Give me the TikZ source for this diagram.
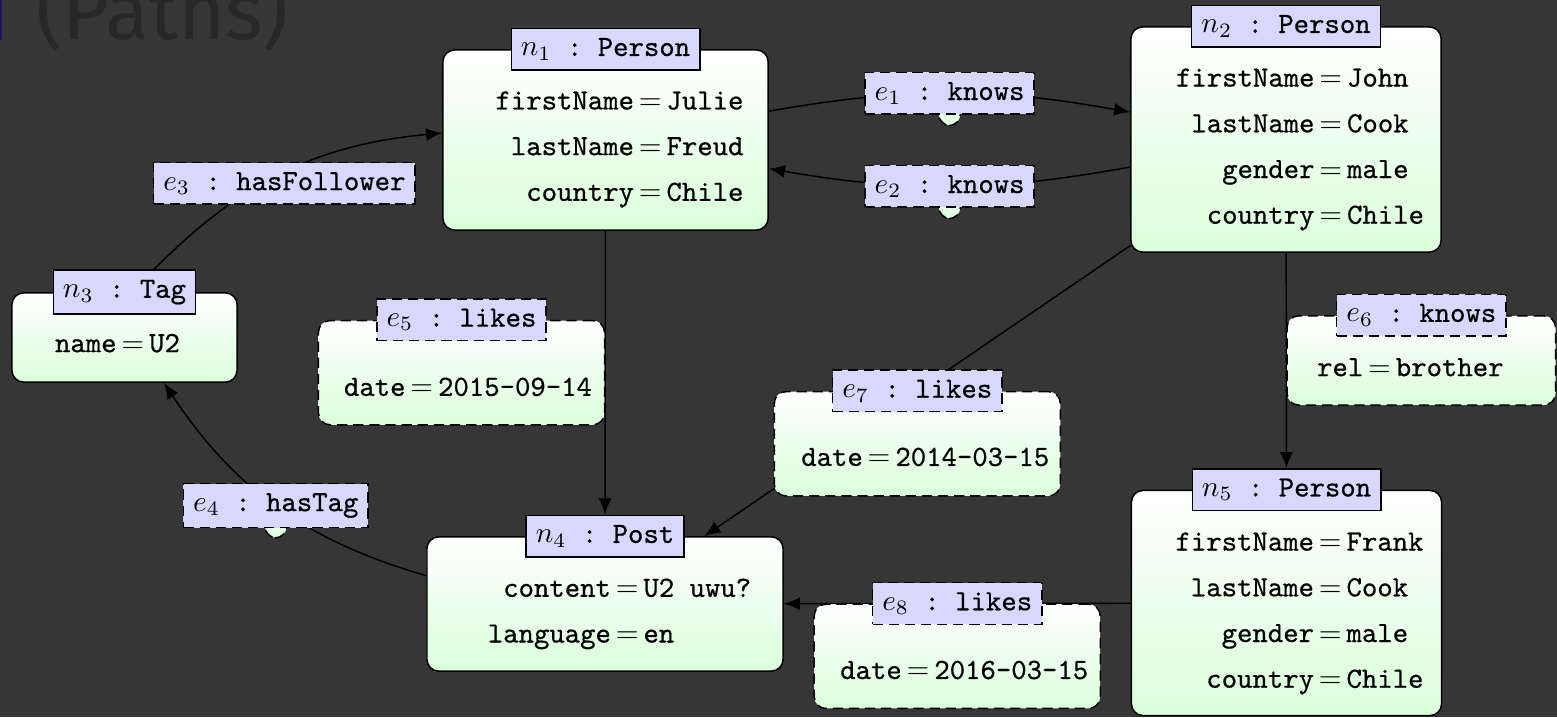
\documentclass[tikz,border=0pt]{standalone}
\usepackage{fontspec}
\setmonofont{Latin Modern Mono}[FakeBold=0.6]
\newfontfamily\slidefont{Fira Sans}
\usepackage{xcolor}
\definecolor{slate}{RGB}{54,54,54}
\definecolor{titlegrey}{RGB}{40,40,40}
\definecolor{headblue}{RGB}{20,20,100}
\definecolor{lavender}{RGB}{216,216,255}
\definecolor{mint}{RGB}{218,255,218}
\usepackage{tikz}
\usetikzlibrary{arrows.meta}
\renewcommand{\arraystretch}{1.3}
\newcommand{\kvtab}[1]{\begin{tabular}{@{}r@{\,$=$\,}l@{}}#1\end{tabular}}

\begin{document}
\begin{tikzpicture}[x=0.012cm, y=-0.012cm]
  \tikzset{
    nbody/.style 2 args={draw=black, line width=0.5pt, rounded corners=4pt,
                         top color=white, bottom color=mint,
                         minimum width=#1, minimum height=#2},
    ebody/.style 2 args={nbody={#1}{#2}, dash pattern=on 3.5pt off 2pt},
    ntitle/.style={draw=black, line width=0.5pt, fill=lavender, inner sep=3.3pt},
    etitle/.style={ntitle, dash pattern=on 3.5pt off 2pt},
    props/.style={inner sep=0pt, font=\ttfamily},
    link/.style={draw=black, line width=0.5pt, -{Latex[length=5.5pt, width=4.4pt]}}
  }
  % Slide
  \clip (0,0) rectangle (1557,717);
  \fill[slate] (0,0) rectangle (1557,717);
  \fill[headblue] (0,0) rectangle (2.5,40);
  \node[anchor=base west, inner sep=0pt, text=titlegrey,
        font=\slidefont\fontsize{27.5}{30}\selectfont] (title) at (36,39) {(Paths)};

  % Nodes
  \node[nbody={3.90cm}{2.16cm}] (n1) at (605.5,140) {};
  \node[ntitle] (n1t) at (n1.north) {$n_1$\texttt{ : Person}};
  \node[props] (n1p) at ([shift={(14,6)}]n1.center)
    {\kvtab{firstName & Julie\\ lastName & Freud\\ country & Chile}};

  \node[nbody={3.72cm}{2.70cm}] (n2) at (1286,139.5) {};
  \node[ntitle] (n2t) at (n2.north) {$n_2$\texttt{ : Person}};
  \node[props] (n2p) at ([shift={(14,6.5)}]n2.center)
    {\kvtab{firstName & John\\ lastName & Cook\\ gender & male\\ country & Chile}};

  \node[nbody={2.70cm}{1.07cm}] (n3) at (124.5,337.5) {};
  \node[ntitle] (n3t) at (n3.north) {$n_3$\texttt{ : Tag}};
  \node[props] (n3p) at ([shift={(-7,5.5)}]n3.center) {\kvtab{name & U2}};

  \node[nbody={4.27cm}{1.61cm}] (n4) at (605,604) {};
  \node[ntitle] (n4t) at (n4.north) {$n_4$\texttt{ : Post}};
  \node[props] (n4p) at ([shift={(14.5,6.5)}]n4.center)
    {\kvtab{content & U2 uwu?\\ language & en}};

  \node[nbody={3.72cm}{2.70cm}] (n5) at (1286.5,603) {};
  \node[ntitle] (n5t) at (n5.north) {$n_5$\texttt{ : Person}};
  \node[props] (n5p) at ([shift={(13,7)}]n5.center)
    {\kvtab{firstName & Frank\\ lastName & Cook\\ gender & male\\ country & Chile}};

  % Edges
  \draw[link] (n1) to[bend left=10] coordinate (m1) (n2);
  \draw[link] (n2) to[bend left=10] coordinate (m2) (n1);
  \draw[link] (n3t) to[bend left=20] coordinate (m3) (n1);
  \draw[link] (n4) to[bend left=20] coordinate (m4) (n3);
  \draw[link] (n1) -- coordinate (m5) (n4t);
  \draw[link] (n2) -- coordinate (m6) (n5t);
  \draw[link] (n2) -- coordinate (m7) (n4);
  \draw[link] (n5) -- coordinate (m8) (n4);

  % Edge labels
  \node[ebody={0.26cm}{0.38cm}, anchor=north] (e1) at (m1) {};
  \node[etitle] (e1t) at (e1.north) {$e_1$\texttt{ : knows}};

  \node[ebody={0.26cm}{0.38cm}, anchor=north] (e2) at (m2) {};
  \node[etitle] (e2t) at (e2.north) {$e_2$\texttt{ : knows}};

  \node[ebody={0.26cm}{0.24cm}, anchor=north] (e3) at ([shift={(0,11)}]m3) {};
  \node[etitle] (e3t) at (e3.north) {$e_3$\texttt{ : hasFollower}};

  \node[ebody={0.26cm}{0.38cm}, anchor=north] (e4) at (m4) {};
  \node[etitle] (e4t) at (e4.north) {$e_4$\texttt{ : hasTag}};

  \node[ebody={3.43cm}{1.25cm}, anchor=east] (e5) at (m5) {};
  \node[etitle] (e5t) at (e5.north) {$e_5$\texttt{ : likes}};
  \node[props] (e5p) at ([shift={(6.5,14)}]e5.center) {\kvtab{date & 2015-09-14}};

  \node[ebody={3.22cm}{1.07cm}, anchor=west] (e6) at (m6) {};
  \node[etitle] (e6t) at (e6.north) {$e_6$\texttt{ : knows}};
  \node[props] (e6p) at ([shift={(-11,6.5)}]e6.center) {\kvtab{rel & brother}};

  \node[ebody={3.43cm}{1.25cm}, anchor=north] (e7) at (m7) {};
  \node[etitle] (e7t) at (e7.north) {$e_7$\texttt{ : likes}};
  \node[props] (e7p) at ([shift={(8,13)}]e7.center) {\kvtab{date & 2014-03-15}};

  \node[ebody={3.43cm}{1.25cm}, anchor=north] (e8) at (m8) {};
  \node[etitle] (e8t) at (e8.north) {$e_8$\texttt{ : likes}};
  \node[props] (e8p) at ([shift={(7,13.5)}]e8.center) {\kvtab{date & 2016-03-15}};
\end{tikzpicture}
\end{document}
